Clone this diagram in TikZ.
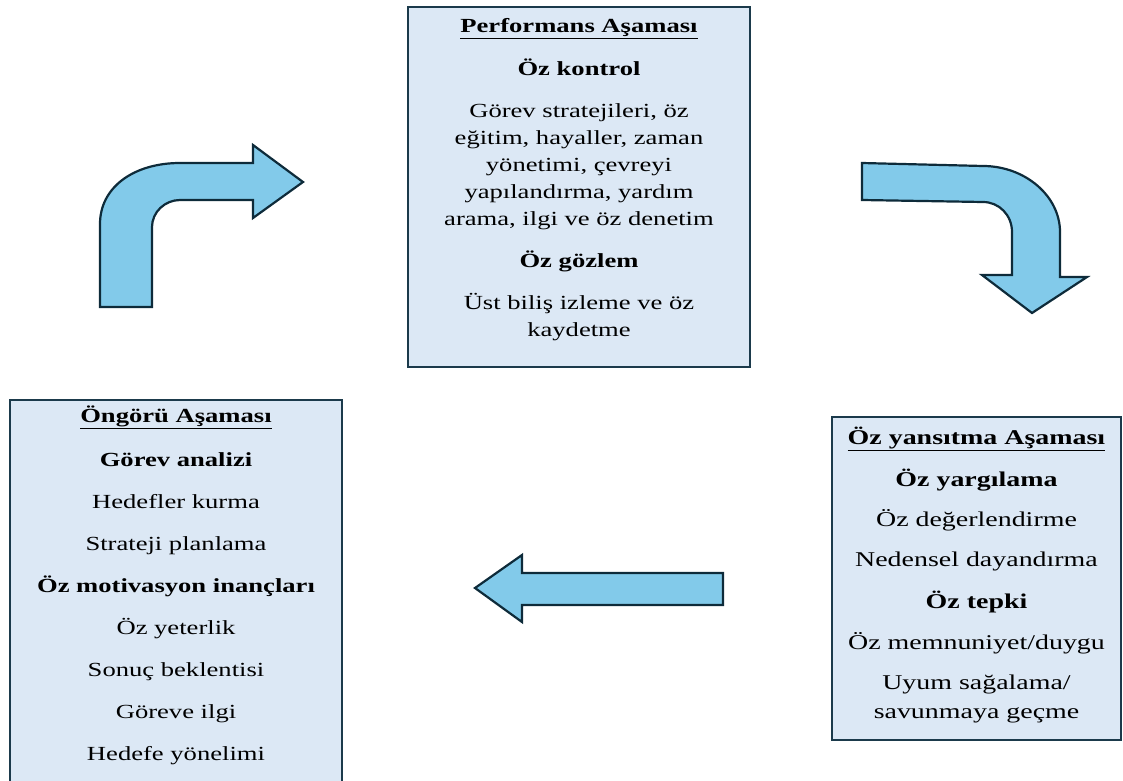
\documentclass[tikz,border=0pt]{standalone}
\usepackage{fontspec}
\setmainfont{Liberation Serif}[FakeStretch=1.33]
\usetikzlibrary{positioning}

\definecolor{boxfill}{HTML}{DCE8F5}
\definecolor{boxline}{HTML}{1B3A4B}
\definecolor{arrowfill}{HTML}{82CAEA}
\definecolor{arrowline}{HTML}{0E2B3A}

\newcommand{\phasehead}[1]{\underline{\textbf{#1}}}

\begin{document}
\begin{tikzpicture}[x=1bp, y=-1bp,
  phase/.style={draw=boxline, line width=2.5bp, fill=boxfill, inner sep=0pt},
  phasetext/.style={align=center, inner sep=0pt, font=\fontsize{20bp}{27bp}\selectfont},
  bigarrow/.style={draw=arrowline, line width=2.2bp, fill=arrowfill, line join=miter}
]
\useasboundingbox (0,0) rectangle (1123,781);

% Boxes
\node[phase, minimum width=342bp, minimum height=360bp] (perf) at (579,187) {};
\node[phase, minimum width=332bp, minimum height=400bp] (fore) at (176,600) {};
\node[phase, minimum width=289bp, minimum height=323bp] (refl) at (976.5,578.5) {};

% Texts
\node[phasetext] (perfT) at (perf.center) [yshift=7bp] {\phasehead{Performans Aşaması}\\[16bp]
  \textbf{Öz kontrol}\\[15bp]
  Görev stratejileri, öz\\ eğitim, hayaller, zaman\\ yönetimi, çevreyi\\ yapılandırma, yardım\\ arama, ilgi ve öz denetim\\[15bp]
  \textbf{Öz gözlem}\\[15bp]
  Üst biliş izleme ve öz\\ kaydetme};

\node[phasetext] (foreT) at (176,585) {\phasehead{Öngörü Aşaması}\\[17bp]
  \textbf{Görev analizi}\\[15bp]
  Hedefler kurma\\[15bp]
  Strateji planlama\\[15bp]
  \textbf{Öz motivasyon inançları}\\[15bp]
  Öz yeterlik\\[15bp]
  Sonuç beklentisi\\[15bp]
  Göreve ilgi\\[15bp]
  Hedefe yönelimi};

\node[phasetext, font=\fontsize{21bp}{29bp}\selectfont] (reflT) at (976.5,575) {\phasehead{Öz yansıtma Aşaması}\\[13bp]
  \textbf{Öz yargılama}\\[11bp]
  Öz değerlendirme\\[11bp]
  Nedensel dayandırma\\[13bp]
  \textbf{Öz tepki}\\[12bp]
  Öz memnuniyet/duygu\\[11bp]
  Uyum sağalama/\\ savunmaya geçme};

% Arrows
\draw[bigarrow] (100,307) -- (100,224) .. controls (100,187) and (134,163) .. (180,163)
  -- (253,163) -- (253,145) -- (303,182) -- (253,218) -- (253,200) -- (180,200)
  .. controls (165,200) and (152,212) .. (152,227) -- (152,307) -- cycle;

\draw[bigarrow] (862,163) -- (983,166) .. controls (1025,166) and (1060,196) .. (1060,232)
  -- (1060,277) -- (1087,277) -- (1032,313) -- (982,275) -- (1012,275) -- (1012,232)
  .. controls (1012,215) and (999,202) .. (983,202) -- (862,200) -- cycle;

\draw[bigarrow] (723,573) -- (522,573) -- (522,555) -- (475,588) -- (522,622)
  -- (522,605) -- (723,605) -- cycle;

\end{tikzpicture}
\end{document}
